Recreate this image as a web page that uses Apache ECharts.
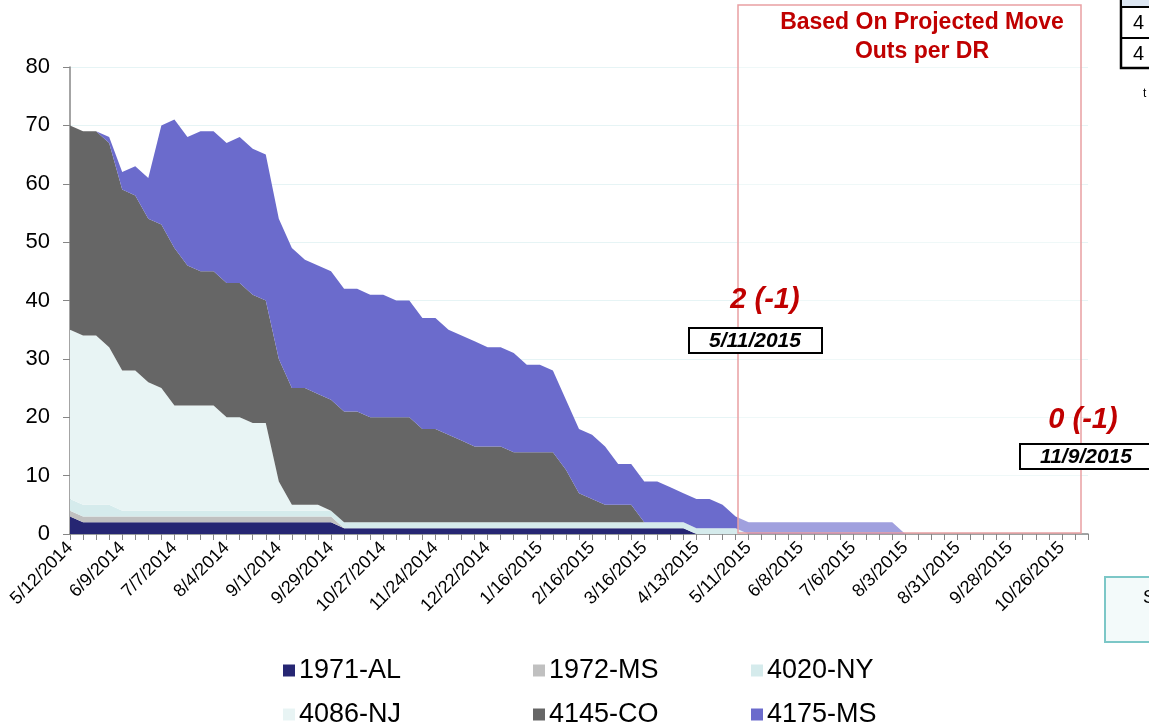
<!DOCTYPE html>
<html>
<head>
<meta charset="utf-8">
<script src="https://cdn.jsdelivr.net/npm/echarts@6/dist/echarts.min.js"></script>
<style>
  html, body { margin: 0; padding: 0; background: #fff; }
  #main { width: 1149px; height: 725px; }
</style>
</head>
<body>
<div id="main"></div>
<script>
"use strict";

var weeks = [
    '5/12/2014', '5/19/2014', '5/26/2014', '6/2/2014', '6/9/2014', '6/16/2014', '6/23/2014', '6/30/2014',
    '7/7/2014', '7/14/2014', '7/21/2014', '7/28/2014', '8/4/2014', '8/11/2014', '8/18/2014', '8/25/2014',
    '9/1/2014', '9/8/2014', '9/15/2014', '9/22/2014', '9/29/2014', '10/6/2014', '10/13/2014', '10/20/2014',
    '10/27/2014', '11/3/2014', '11/10/2014', '11/17/2014', '11/24/2014', '12/1/2014', '12/8/2014', '12/15/2014',
    '12/22/2014', '12/29/2014', '1/5/2015', '1/12/2015', '1/16/2015', '1/26/2015', '2/2/2015', '2/9/2015',
    '2/16/2015', '2/23/2015', '3/2/2015', '3/9/2015', '3/16/2015', '3/23/2015', '3/30/2015', '4/6/2015',
    '4/13/2015', '4/20/2015', '4/27/2015', '5/4/2015', '5/11/2015', '5/18/2015', '5/25/2015', '6/1/2015',
    '6/8/2015', '6/15/2015', '6/22/2015', '6/29/2015', '7/6/2015', '7/13/2015', '7/20/2015', '7/27/2015',
    '8/3/2015', '8/10/2015', '8/17/2015', '8/24/2015', '8/31/2015', '9/7/2015', '9/14/2015', '9/21/2015',
    '9/28/2015', '10/5/2015', '10/12/2015', '10/19/2015', '10/26/2015', '11/2/2015', '11/9/2015'
];

var al1971 = [
    3, 2, 2, 2, 2, 2, 2, 2, 2, 2, 2, 2, 2, 2, 2, 2, 2, 2, 2, 2,
    2, 1, 1, 1, 1, 1, 1, 1, 1, 1, 1, 1, 1, 1, 1, 1, 1, 1, 1, 1,
    1, 1, 1, 1, 1, 1, 1, 1, 0, 0, 0, 0, 0, 0, 0, 0, 0, 0, 0, 0,
    0, 0, 0, 0, 0, 0, 0, 0, 0, 0, 0, 0, 0, 0, 0, 0, 0, 0, 0
];
var ms1972 = [
    1, 1, 1, 1, 1, 1, 1, 1, 1, 1, 1, 1, 1, 1, 1, 1, 1, 1, 1, 1,
    1, 0, 0, 0, 0, 0, 0, 0, 0, 0, 0, 0, 0, 0, 0, 0, 0, 0, 0, 0,
    0, 0, 0, 0, 0, 0, 0, 0, 0, 0, 0, 0, 0, 0, 0, 0, 0, 0, 0, 0,
    0, 0, 0, 0, 0, 0, 0, 0, 0, 0, 0, 0, 0, 0, 0, 0, 0, 0, 0
];
var ny4020 = [
    2, 2, 2, 2, 1, 1, 1, 1, 1, 1, 1, 1, 1, 1, 1, 1, 1, 1, 1, 1,
    1, 1, 1, 1, 1, 1, 1, 1, 1, 1, 1, 1, 1, 1, 1, 1, 1, 1, 1, 1,
    1, 1, 1, 1, 1, 1, 1, 1, 1, 1, 1, 1, 0, 0, 0, 0, 0, 0, 0, 0,
    0, 0, 0, 0, 0, 0, 0, 0, 0, 0, 0, 0, 0, 0, 0, 0, 0, 0, 0
];
var nj4086 = [
    29, 29, 29, 27, 24, 24, 22, 21, 18, 18, 18, 18, 16, 16, 15, 15, 5, 1, 1, 1,
    0, 0, 0, 0, 0, 0, 0, 0, 0, 0, 0, 0, 0, 0, 0, 0, 0, 0, 0, 0,
    0, 0, 0, 0, 0, 0, 0, 0, 0, 0, 0, 0, 0, 0, 0, 0, 0, 0, 0, 0,
    0, 0, 0, 0, 0, 0, 0, 0, 0, 0, 0, 0, 0, 0, 0, 0, 0, 0, 0
];
var co4145 = [
    35, 35, 35, 35, 31, 30, 28, 28, 27, 24, 23, 23, 23, 23, 22, 21, 21, 20, 20, 19,
    19, 19, 19, 18, 18, 18, 18, 16, 16, 15, 14, 13, 13, 13, 12, 12, 12, 12, 9, 5,
    4, 3, 3, 3, 0, 0, 0, 0, 0, 0, 0, 0, 0, 0, 0, 0, 0, 0, 0, 0,
    0, 0, 0, 0, 0, 0, 0, 0, 0, 0, 0, 0, 0, 0, 0, 0, 0, 0, 0
];
var ms4175 = [
    0, 0, 0, 1, 3, 5, 7, 17, 22, 22, 24, 24, 24, 25, 25, 25, 24, 24, 22, 22,
    22, 21, 21, 21, 21, 20, 20, 19, 19, 18, 18, 18, 17, 17, 17, 15, 15, 14, 12, 11,
    11, 10, 7, 7, 7, 7, 6, 5, 5, 5, 4, 2, 2, 2, 2, 2, 2, 2, 2, 2,
    2, 2, 2, 2, 0, 0, 0, 0, 0, 0, 0, 0, 0, 0, 0, 0, 0, 0, 0
];

var seriesNames = ['1971-AL', '1972-MS', '4020-NY', '4086-NJ', '4145-CO', '4175-MS'];
var seriesData = [al1971, ms1972, ny4020, nj4086, co4145, ms4175];
var seriesColors = ['#262673', '#C0C0C0', '#D5EBEC', '#E8F4F4', '#666666', '#6B6BCC'];

// legend grid: 3 columns x 2 rows, as in the original
var legendCols = [278, 528, 746];
var legendRows = [652, 696];

var font = "'Liberation Sans', Arial, sans-serif";
var myChart = echarts.init(document.getElementById('main'));

function makeSeries(name, i) {
    return {
        name: name,
        type: 'line',
        stack: 'total',
        data: seriesData[i],
        symbol: 'none',
        lineStyle: { width: 0 },
        areaStyle: { color: seriesColors[i], opacity: 1 },
        color: seriesColors[i],
        emphasis: { disabled: true },
        animation: false
    };
}

function makeLegend(name, i) {
    return {
        orient: 'horizontal',
        left: legendCols[i % 3],
        top: legendRows[Math.floor(i / 3)],
        itemWidth: 12,
        itemHeight: 12,
        icon: 'rect',
        selectedMode: false,
        data: [name],
        textStyle: { fontFamily: font, fontSize: 27, color: '#000', padding: [0, 0, 0, -1] }
    };
}

function dateBox(cx, cy, label) {
    return {
        type: 'group',
        children: [
            { type: 'rect', z: 100, shape: { x: cx - 66, y: cy - 12, width: 133, height: 25 },
              style: { fill: '#fff', stroke: '#000', lineWidth: 2 } },
            { type: 'text', z: 101, x: cx, y: cy + 1,
              style: { text: label, font: 'italic bold 21px ' + font, fill: '#000', align: 'center', verticalAlign: 'middle' } }
        ]
    };
}

function redNote(cx, cy, label) {
    return {
        type: 'text', x: cx, y: cy, z: 100,
        style: { text: label, font: 'italic bold 29px ' + font, fill: '#C00000', align: 'center', verticalAlign: 'middle' }
    };
}

var legendOrder = ['1971-AL', '1972-MS', '4020-NY', '4086-NJ', '4145-CO', '4175-MS'];

var option = {
    backgroundColor: '#fff',
    animation: false,
    grid: { left: 70, right: 61, top: 67, bottom: 191 },
    legend: legendOrder.map(makeLegend),
    xAxis: {
        type: 'category',
        data: weeks,
        boundaryGap: false,
        axisLine: { lineStyle: { color: '#868686', width: 1.5 } },
        axisTick: { show: true, interval: 0, length: 6, lineStyle: { color: '#868686' } },
        axisLabel: { interval: 3, rotate: 45, fontFamily: font, fontSize: 18, color: '#000', margin: 11 },
        splitLine: { show: false }
    },
    yAxis: {
        type: 'value',
        min: 0,
        max: 80,
        interval: 10,
        axisLine: { show: true, lineStyle: { color: '#868686', width: 1.5 } },
        axisTick: { show: true, length: 7, lineStyle: { color: '#868686' } },
        axisLabel: { fontFamily: font, fontSize: 22, color: '#000', margin: 20 },
        splitLine: { lineStyle: { color: '#E6F4F5', width: 1 } }
    },
    series: seriesNames.map(makeSeries),
    graphic: [
        // projected move-outs box
        { type: 'rect', z: 50, shape: { x: 738, y: 5, width: 343, height: 528 },
          style: { fill: 'rgba(255,255,255,0.36)', stroke: '#E9A0A3', lineWidth: 1.5 } },
        { type: 'text', x: 922, y: 37, z: 100,
          style: { text: 'Based On Projected Move\nOuts per DR', font: 'bold 23px ' + font, fill: '#C00000',
                   align: 'center', verticalAlign: 'middle', lineHeight: 29 } },
        redNote(765, 300, '2 (-1)'),
        dateBox(755, 340, '5/11/2015'),
        redNote(1083, 420, '0 (-1)'),
        dateBox(1086, 456, '11/9/2015'),
        // pieces of neighbouring objects cut off at the right edge
        { type: 'rect', z: 100, shape: { x: 1121, y: -4, width: 40, height: 72 },
          style: { fill: '#fff', stroke: '#000', lineWidth: 2.5 } },
        { type: 'rect', z: 100, shape: { x: 1122, y: -3, width: 40, height: 9 },
          style: { fill: '#DCE6F2' } },
        { type: 'line', z: 101, shape: { x1: 1121, y1: 7, x2: 1149, y2: 7 }, style: { stroke: '#000', lineWidth: 2 } },
        { type: 'line', z: 101, shape: { x1: 1121, y1: 38, x2: 1149, y2: 38 }, style: { stroke: '#000', lineWidth: 2 } },
        { type: 'text', x: 1133, y: 23, z: 102,
          style: { text: '4', font: '20px ' + font, fill: '#000', verticalAlign: 'middle' } },
        { type: 'text', x: 1133, y: 54, z: 102,
          style: { text: '4', font: '20px ' + font, fill: '#000', verticalAlign: 'middle' } },
        { type: 'text', x: 1143, y: 94, z: 102,
          style: { text: 't', font: '12px ' + font, fill: '#000', verticalAlign: 'middle' } },
        { type: 'rect', z: 100, shape: { x: 1105, y: 577, width: 60, height: 65 },
          style: { fill: '#F3FAFA', stroke: '#7CC7C7', lineWidth: 2 } },
        { type: 'text', x: 1143, y: 598, z: 102,
          style: { text: 'S', font: '18px ' + font, fill: '#000', verticalAlign: 'middle' } }
    ]
};

myChart.setOption(option);
</script>
</body>
</html>
